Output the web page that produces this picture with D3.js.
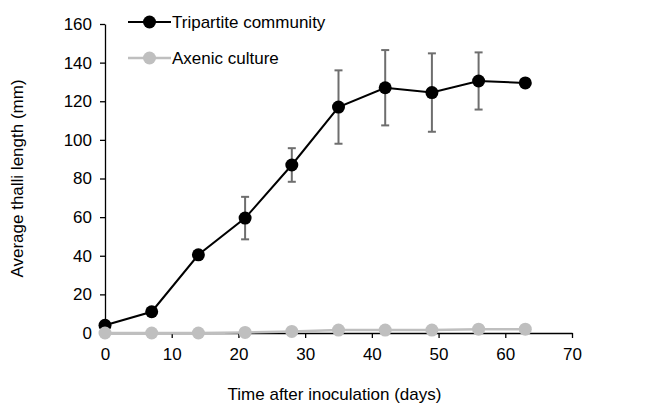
<!DOCTYPE html>
<html>
<head>
<meta charset="utf-8">
<script src="https://cdn.jsdelivr.net/npm/d3@7"></script>
<style>
  body { margin: 0; background: #fff; }
  svg text { font-family: "Liberation Sans", Arial, sans-serif; fill: #000; }
</style>
</head>
<body>
<div id="chart"></div>
<script>
// Data
const days = [0, 7, 14, 21, 28, 35, 42, 49, 56, 63];
const tripartite = [4, 11, 40.5, 59.5, 87, 117, 127, 124.5, 130.5, 129.5];
const tripartiteErr = [0, 0, 0, 11, 8.7, 19, 19.5, 20.3, 14.8, 0];
const axenic = [0, 0, 0, 0.3, 0.8, 1.5, 1.5, 1.5, 2, 2];
const xTicks = [0, 10, 20, 30, 40, 50, 60, 70];
const yTicks = [0, 20, 40, 60, 80, 100, 120, 140, 160];
const seriesNames = ["Tripartite community", "Axenic culture"];
const seriesColors = ["#000000", "#bfbfbf"];

const width = 667;
const height = 405;
const margin = { top: 24, right: 95, bottom: 72, left: 105 };
const graphWidth = width - margin.left - margin.right;
const graphHeight = height - margin.top - margin.bottom;

const svg = d3.select('#chart')
  .append('svg')
  .attr('width', width)
  .attr('height', height);

const g = svg.append('g')
  .attr('transform', `translate(${margin.left},${margin.top})`);

const xScale = d3.scaleLinear().domain([0, 70]).range([0, graphWidth]);
const yScale = d3.scaleLinear().domain([0, 160]).range([graphHeight, 0]);

// Axes
const xAxis = g.append('g')
  .attr('transform', `translate(0,${graphHeight})`)
  .call(d3.axisBottom(xScale).tickValues(xTicks).tickSize(5).tickSizeOuter(0).tickPadding(10));
const yAxis = g.append('g')
  .call(d3.axisLeft(yScale).tickValues(yTicks).tickSize(5).tickSizeOuter(0).tickPadding(8));

[xAxis, yAxis].forEach(ax => {
  ax.select('.domain').attr('stroke', '#000').attr('stroke-width', 1.3);
  ax.selectAll('.tick line').attr('stroke', '#000').attr('stroke-width', 1.3);
  ax.selectAll('.tick text').style('font-size', '17px').attr('fill', '#000');
});

// Axis titles
svg.append('text')
  .attr('x', margin.left + graphWidth / 2 - 4)
  .attr('y', 400)
  .attr('text-anchor', 'middle')
  .style('font-size', '17px')
  .text('Time after inoculation (days)');

svg.append('text')
  .attr('transform', `translate(23,${margin.top + graphHeight / 2}) rotate(-90)`)
  .attr('text-anchor', 'middle')
  .style('font-size', '17px')
  .text('Average thalli length (mm)');

const line = d3.line()
  .x(d => xScale(d.x))
  .y(d => yScale(d.y));

const tripData = days.map((d, i) => ({ x: d, y: tripartite[i], e: tripartiteErr[i] }));
const axData = days.map((d, i) => ({ x: d, y: axenic[i] }));

// Error bars (behind points)
const errG = g.append('g');
tripData.filter(d => d.e > 0).forEach(d => {
  const x = xScale(d.x);
  const y0 = yScale(d.y - d.e);
  const y1 = yScale(d.y + d.e);
  errG.append('line').attr('x1', x).attr('x2', x).attr('y1', y0).attr('y2', y1)
    .attr('stroke', '#6e6e6e').attr('stroke-width', 2);
  [y0, y1].forEach(yy => {
    errG.append('line').attr('x1', x - 4).attr('x2', x + 4).attr('y1', yy).attr('y2', yy)
      .attr('stroke', '#6e6e6e').attr('stroke-width', 2);
  });
});

// Tripartite line + points
g.append('path')
  .datum(tripData)
  .attr('d', line)
  .attr('fill', 'none')
  .attr('stroke', seriesColors[0])
  .attr('stroke-width', 2);
g.selectAll('.dot-t')
  .data(tripData)
  .enter()
  .append('circle')
  .attr('cx', d => xScale(d.x))
  .attr('cy', d => yScale(d.y))
  .attr('r', 6.5)
  .attr('fill', seriesColors[0]);

// Axenic line + points
g.append('path')
  .datum(axData)
  .attr('d', line)
  .attr('fill', 'none')
  .attr('stroke', seriesColors[1])
  .attr('stroke-width', 2.5);
g.selectAll('.dot-a')
  .data(axData)
  .enter()
  .append('circle')
  .attr('cx', d => xScale(d.x))
  .attr('cy', d => yScale(d.y))
  .attr('r', 6.5)
  .attr('fill', seriesColors[1]);

// Legend
const legend = svg.append('g').attr('transform', 'translate(128,22)');
seriesNames.forEach((name, i) => {
  const row = legend.append('g').attr('transform', `translate(0,${i * 36})`);
  row.append('line').attr('x1', 0).attr('x2', 43).attr('y1', 0).attr('y2', 0)
    .attr('stroke', seriesColors[i]).attr('stroke-width', i === 0 ? 2 : 2.5);
  row.append('circle').attr('cx', 21.5).attr('cy', 0).attr('r', 6.5).attr('fill', seriesColors[i]);
  row.append('text').attr('x', 44).attr('y', 6).style('font-size', '17px').text(name);
});
</script>
</body>
</html>
